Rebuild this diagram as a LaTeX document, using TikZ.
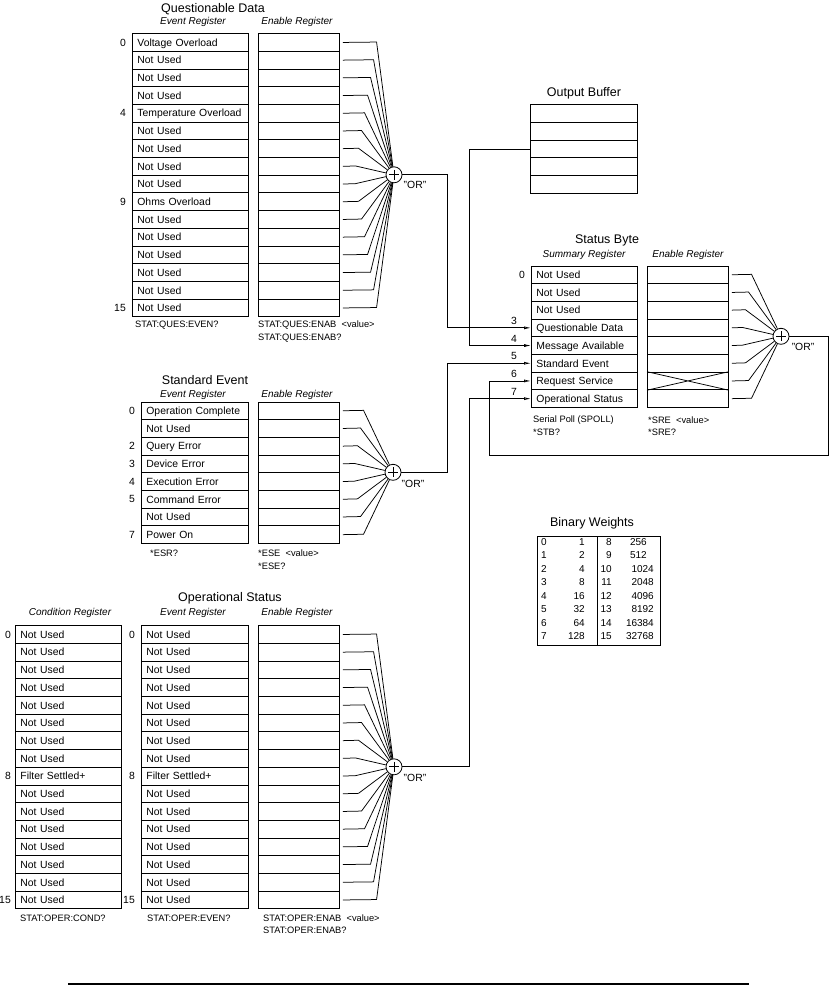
\documentclass[tikz,border=0pt]{standalone}
\usepackage{fontspec}
\setmainfont{Liberation Sans}
\usetikzlibrary{arrows.meta,calc}
\newcommand\cellfont{\fontsize{10.4}{12}\selectfont}
\newcommand\ttlfont{\fontsize{12.5}{14}\selectfont}
\newcommand\subfont{\fontsize{10}{12}\selectfont\itshape}
\newcommand\cmdfont{\fontsize{9.3}{11}\selectfont}
\newcommand\bwfont{\fontsize{10}{11}\selectfont}
\newcommand\orword{\symbol{34}OR\symbol{34}}
% #1 prefix, #2 x, #3 top, #4 text width, #5 list
\newcommand\regcol[5]{%
  \foreach \t [count=\i from 0] in {#5}
    \node[cell, text width=#4] (#1\i) at (#2,#3+\i*17.7) {\t};}
% #1 prefix, #2 x, #3 top, #4 last index
\newcommand\enacol[4]{%
  \foreach \i in {0,...,#4}
    \node[cell, minimum width=81pt] (#1\i) at (#2,#3+\i*17.7) {};}
% #1 enable prefix, #2 last index, #3 circle name, #4 circle x, #5 circle y, #6 top
\newcommand\fan[6]{%
  \foreach \i in {0,...,#2}{%
    \pgfmathsetmacro\yy{#6+\i*17.7+8.85}%
    \pgfmathsetmacro\bx{#4-40+0.17*abs(\yy-#5)}%
    \draw[wire] ([xshift=3pt]#1\i.east) -- (\bx,\yy) -- (#3);}}
\begin{document}
\begin{tikzpicture}[x=1pt,y=-1pt,
  cell/.style={draw, line width=0.8pt, anchor=north west, minimum height=17.7pt,
    inner xsep=5pt, inner ysep=0pt, align=left, font=\cellfont,
    text height=7.5pt, text depth=0pt},
  wire/.style={line width=0.75pt},
  orc/.style={circle, draw, line width=0.8pt, minimum size=16pt, inner sep=0pt},
  orlab/.style={font=\cellfont, inner sep=0pt},
  ttl/.style={font=\ttlfont, inner sep=0pt},
  sub/.style={font=\subfont, inner sep=0pt},
  cmd/.style={font=\cmdfont, inner sep=0pt, anchor=west},
  bitn/.style={font=\cellfont, inner sep=0pt, anchor=east},
  bw/.style={font=\bwfont, inner sep=0pt},
  oarr/.style={wire, -{Latex[open,length=7pt,width=3pt]}},
  farr/.style={wire, -{Latex[length=7pt,width=3pt]}}]
\useasboundingbox (0,0) rectangle (830,992);

% ---------------- Questionable Data ----------------
\node[ttl] (qdt) at (213,9) {Questionable Data};
\node[sub] (qds1) at (193,22) {Event Register};
\node[sub] (qds2) at (297,22) {Enable Register};
\regcol{qv}{132}{33.2}{106pt}{Voltage Overload, Not Used, Not Used, Not Used, Temperature Overload, Not Used, Not Used, Not Used, Not Used, Ohms Overload, Not Used, Not Used, Not Used, Not Used, Not Used, Not Used}
\enacol{qe}{258}{33.2}{15}
\foreach \b in {0,4,9,15} \node[bitn] (qb\b) at ([xshift=-6pt]qv\b.west) {\b};
\node[orc] (qor) at (394,174.8) {};
\draw[wire] ([yshift=5pt]qor.center) -- ([yshift=-5pt]qor.center) ([xshift=-5pt]qor.center) -- ([xshift=5pt]qor.center);
\fan{qe}{15}{qor}{394}{174.8}{33.2}
\node[orlab] (qorl) at (415,185) {\orword};
\node[cmd] (qc1) at (135,325) {STAT:QUES:EVEN?};
\node[cmd] (qc2) at (258,325) {STAT:QUES:ENAB\ \ <value>};
\node[cmd] (qc3) at (258,338) {STAT:QUES:ENAB?};

% ---------------- Output Buffer ----------------
\node[ttl] (obt) at (584,93) {Output Buffer};
\foreach \i in {0,...,4}
  \node[cell, minimum width=107pt, minimum height=17.8pt] (ob\i) at (530,104+\i*17.8) {};

% ---------------- Status Byte ----------------
\node[ttl] (sbt) at (607,240) {Status Byte};
\node[sub] (sbs1) at (584,255) {Summary Register};
\node[sub] (sbs2) at (688,255) {Enable Register};
\regcol{sm}{531}{265.5}{96pt}{Not Used, Not Used, Not Used, Questionable Data, Message Available, Standard Event, Request Service, Operational Status}
\enacol{sn}{647}{265.5}{7}
\draw[wire] (sn6.north west) -- (sn6.south east) (sn6.south west) -- (sn6.north east);
\node[bitn] (sb0) at ([xshift=-6pt]sm0.west) {0};
\foreach \b in {3,...,7} \node[bitn] (sb\b) at ([xshift=-14pt,yshift=7pt]sm\b.west) {\b};
\node[orc] (sor) at (781,336.3) {};
\draw[wire] ([yshift=5pt]sor.center) -- ([yshift=-5pt]sor.center) ([xshift=-5pt]sor.center) -- ([xshift=5pt]sor.center);
\fan{sn}{7}{sor}{781}{336.3}{265.5}
\node[orlab] (sorl) at (803,347) {\orword};
\node[cmd] (sc1) at (533,420) {Serial Poll (SPOLL)};
\node[cmd] (sc2) at (533,432) {*STB?};
\node[cmd] (sc3) at (648,420) {*SRE\ \ <value>};
\node[cmd] (sc4) at (648,432) {*SRE?};

% ---------------- Standard Event ----------------
\node[ttl] (set) at (205,380) {Standard Event};
\node[sub] (ses1) at (193,395) {Event Register};
\node[sub] (ses2) at (297,395) {Enable Register};
\regcol{ev}{141}{401.5}{97pt}{Operation Complete, Not Used, Query Error, Device Error, Execution Error, Command Error, Not Used, Power On}
\enacol{ee}{258}{401.5}{7}
\foreach \b in {0,2,3,4,5,7} \node[bitn] (eb\b) at ([xshift=-6pt]ev\b.west) {\b};
\node[orc] (eor) at (393,472.3) {};
\draw[wire] ([yshift=5pt]eor.center) -- ([yshift=-5pt]eor.center) ([xshift=-5pt]eor.center) -- ([xshift=5pt]eor.center);
\fan{ee}{7}{eor}{393}{472.3}{401.5}
\node[orlab] (eorl) at (413,484) {\orword};
\node[cmd] (ec1) at (150,553) {*ESR?};
\node[cmd] (ec2) at (258,553) {*ESE\ \ <value>};
\node[cmd] (ec3) at (258,566) {*ESE?};

% ---------------- Binary Weights ----------------
\node[ttl] (bwt) at (592,523) {Binary Weights};
\draw[line width=0.8pt] (537,536) rectangle (660,645);
\draw[line width=0.8pt] (597,536) -- (597,645);
\foreach \a/\v [count=\k from 0] in {0/1,1/2,2/4,3/8,4/16,5/32,6/64,7/128}{
  \node[bw, anchor=west] (bwa\k) at (541,542+\k*13.5) {\a};
  \node[bw, anchor=east] (bwv\k) at (585,542+\k*13.5) {\v};}
\foreach \a/\v/\e [count=\k from 0] in {8/256/647,9/512/647,10/1024/654,11/2048/654,12/4096/654,13/8192/654,14/16384/654,15/32768/654}{
  \node[bw, anchor=east] (bwb\k) at (612,542+\k*13.5) {\a};
  \node[bw, anchor=east] (bww\k) at (\e,542+\k*13.5) {\v};}

% ---------------- Operational Status ----------------
\node[ttl] (ost) at (230,598) {Operational Status};
\node[sub] (oss1) at (70,613) {Condition Register};
\node[sub] (oss2) at (193,613) {Event Register};
\node[sub] (oss3) at (297,613) {Enable Register};
\regcol{oc}{15}{625.2}{96pt}{Not Used, Not Used, Not Used, Not Used, Not Used, Not Used, Not Used, Not Used, Filter Settled+, Not Used, Not Used, Not Used, Not Used, Not Used, Not Used, Not Used}
\regcol{ov}{141}{625.2}{97pt}{Not Used, Not Used, Not Used, Not Used, Not Used, Not Used, Not Used, Not Used, Filter Settled+, Not Used, Not Used, Not Used, Not Used, Not Used, Not Used, Not Used}
\enacol{oe}{258}{625.2}{15}
\foreach \b in {0,8,15} {
  \node[bitn] (ocb\b) at ([xshift=-4pt]oc\b.west) {\b};
  \node[bitn] (ovb\b) at ([xshift=-6pt]ov\b.west) {\b};}
\node[orc] (oor) at (394,766.8) {};
\draw[wire] ([yshift=5pt]oor.center) -- ([yshift=-5pt]oor.center) ([xshift=-5pt]oor.center) -- ([xshift=5pt]oor.center);
\fan{oe}{15}{oor}{394}{766.8}{625.2}
\node[orlab] (oorl) at (415,778) {\orword};
\node[cmd] (oc1) at (20,918) {STAT:OPER:COND?};
\node[cmd] (oc2) at (147,918) {STAT:OPER:EVEN?};
\node[cmd] (oc3) at (263,918) {STAT:OPER:ENAB\ \ <value>};
\node[cmd] (oc4) at (263,930) {STAT:OPER:ENAB?};

% ---------------- Connections to Status Byte ----------------
\coordinate (xq) at (447,0);
\coordinate (xo) at (469,0);
\draw[oarr] (qor.east) -| (xq |- sm3.west) -- (sm3.west);
\draw[farr] (ob2.west) -| (xo |- sm4.west) -- (sm4.west);
\draw[oarr] (eor.east) -| (xq |- sm5.west) -- (sm5.west);
\draw[oarr] (oor.east) -| (xo |- sm7.west) -- (sm7.west);
\coordinate (loopR) at (828,455);
\coordinate (loopL) at (489,455);
\draw[oarr] (sor.east) -| (loopR) -- (loopL) |- (sm6.west);

% ---------------- bottom rule ----------------
\coordinate (ruleL) at (68,984);
\coordinate (ruleR) at (749,984);
\draw[line width=1.4pt] (ruleL) -- (ruleR);
\end{tikzpicture}
\end{document}
